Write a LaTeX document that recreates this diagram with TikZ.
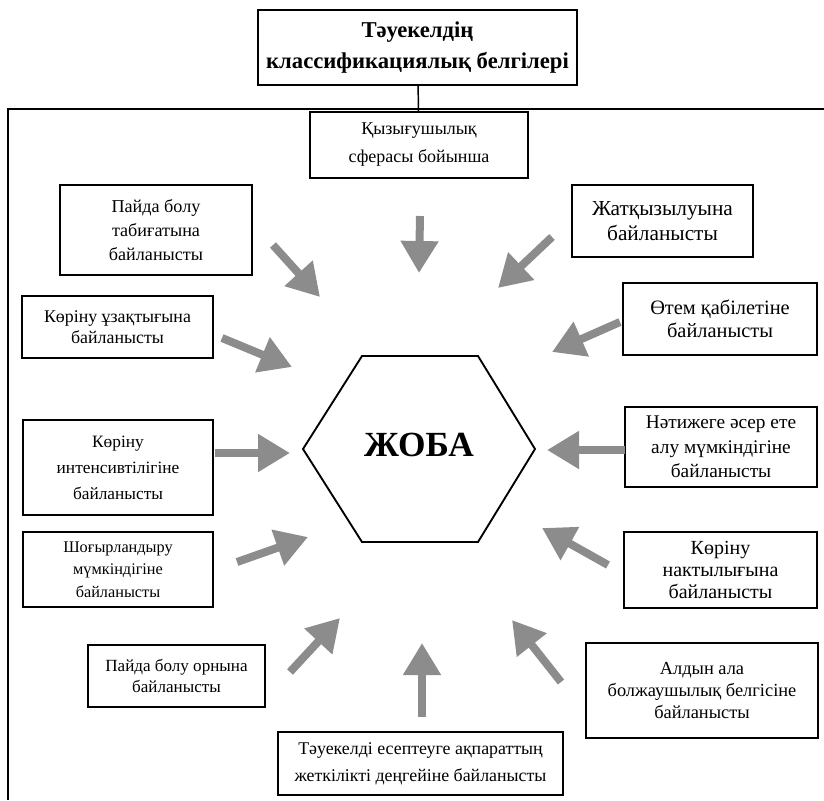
\documentclass[tikz,border=0pt]{standalone}
\usepackage{fontspec}
\setmainfont{Liberation Serif}
\usetikzlibrary{arrows.meta}
\definecolor{arrowgray}{RGB}{140,140,140}
\begin{document}
\begin{tikzpicture}[x=0.75pt,y=-0.75pt,
  bx/.style 2 args={draw, line width=1.1pt, fill=white, align=center, inner sep=0pt,
    minimum width=#1*0.75pt, minimum height=#2*0.75pt},
  fs/.style 2 args={font=\fontsize{#1}{#2}\selectfont},
  arr/.style={draw=arrowgray, line width=6pt, -{Triangle[length=24pt,width=27pt]}, fill=arrowgray}]
\useasboundingbox (0,0) rectangle (824,800);
% outer frame (open to right and bottom)
\draw[line width=1.6pt] (8,800) -- (8,109) -- (824,109);
% title and first box
\node[bx={319}{75}, font=\fontsize{17}{23}\selectfont\bfseries] (title) at (417.5,47.5) {Тәуекелдің\\классификациялық белгілері};
\node[bx={218}{66}, fs={13.5}{21}] (qyz) at (419,145) {Қызығушылық\\сферасы бойынша};
\draw[line width=1.1pt] (title) -- (qyz);
% side boxes
\node[bx={192}{90}, fs={13.6}{18}] (paida) at (156,230) {Пайда болу\\табиғатына\\байланысты};
\node[bx={191}{62}, fs={13.4}{15.5}] (uzak) at (117.5,327) {Көріну ұзақтығына\\байланысты};
\node[bx={190}{95}, fs={13}{19.5}] (intens) at (118,467.5) {Көріну\\интенсивтілігіне\\байланысты};
\node[bx={190}{75}, fs={12.2}{17}] (shogyr) at (118,569.5) {Шоғырландыру\\мүмкіндігіне\\байланысты};
\node[bx={177}{62}, fs={12.8}{15.5}] (orny) at (176.5,676) {Пайда болу орнына\\байланысты};
\node[bx={285}{63}, fs={13.4}{20}] (bottom) at (420.5,763.5) {Тәуекелді есептеуге ақпараттың\\жеткілікті деңгейіне байланысты};
\node[bx={181}{72}, fs={16}{19}] (zhatq) at (662.5,221) {Жатқызылуына\\байланысты};
\node[bx={194}{72}, fs={15.3}{17}] (otem) at (720,319) {Өтем қабілетіне\\байланысты};
\node[bx={192}{80}, fs={14.5}{18.5}] (natizh) at (721,447) {Нәтижеге әсер ете\\алу мүмкіндігіне\\байланысты};
\node[bx={193}{76}, fs={15}{16.5}] (naktyl) at (720.5,570) {Көріну\\нактылығына\\байланысты};
\node[bx={232}{95}, fs={13.8}{16.5}] (aldyn) at (702,690.5) {Алдын ала\\болжаушылық белгісіне\\байланысты};
% centre hexagon
\node[font=\fontsize{26.5}{30}\selectfont\bfseries, inner sep=0pt] (hex) at (419,445) {ЖОБА};
\draw[line width=1.4pt] ([shift={(-116,4)}]hex.center) -- ([shift={(-57,-89)}]hex.center)
  -- ([shift={(59,-89)}]hex.center) -- ([shift={(116,4)}]hex.center)
  -- ([shift={(59,97)}]hex.center) -- ([shift={(-57,97)}]hex.center) -- cycle;
% arrow end points
\coordinate (t1) at (420,216);  \coordinate (h1) at (419,273);
\coordinate (t2) at (273,245);  \coordinate (h2) at (320,297);
\coordinate (t3) at (222,338);  \coordinate (h3) at (292,367);
\coordinate (t4) at (215,453);  \coordinate (h4) at (290,453);
\coordinate (t5) at (237,562);  \coordinate (h5) at (308,537);
\coordinate (t6) at (290,672);  \coordinate (h6) at (340,618);
\coordinate (t7) at (422,717);  \coordinate (h7) at (422,643);
\coordinate (t8) at (561,682);  \coordinate (h8) at (512,620);
\coordinate (t9) at (608,565);  \coordinate (h9) at (542,528);
\coordinate (t10) at (625,450); \coordinate (h10) at (547,450);
\coordinate (t11) at (620,322); \coordinate (h11) at (552,352);
\coordinate (t12) at (552,237); \coordinate (h12) at (498,288);
\foreach \i in {1,...,12} { \draw[arr] (t\i) -- (h\i); }
\end{tikzpicture}
\end{document}
